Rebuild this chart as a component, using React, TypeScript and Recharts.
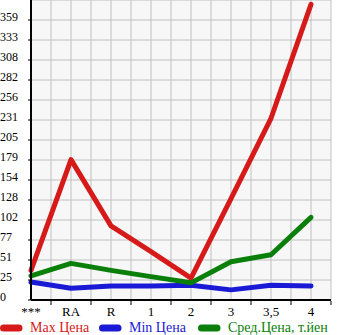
import { CartesianGrid, Legend, Line, LineChart, XAxis, YAxis } from "recharts";

const categories = ["***", "RA", "R", "1", "2", "3", "3,5", "4"];
const maxPrice = [38, 180, 95, 62, 28, 130, 233, 379];
const minPrice = [23, 15, 18, 18, 19, 13, 19, 18];
const avgPrice = [31, 47, 38, 30, 22, 49, 58, 106];
const yTickLabels = ["0", "25", "51", "77", "102", "128", "154", "179", "205", "231", "256", "282", "308", "333", "359"];

const Y_STEP = 359 / 14;
const yTicks = yTickLabels.map((_, i) => i * Y_STEP);
const xTicks = Array.from({ length: categories.length * 2 }, (_, i) => i / 2);

const FONT = "'Liberation Serif', 'DejaVu Serif', serif";

const RED = "#d61a1a";
const BLUE = "#1a1ad6";
const GREEN = "#0a800a";

const SERIES = [
  { key: "max", name: "Max Цена", color: RED },
  { key: "min", name: "Min Цена", color: BLUE },
  { key: "avg", name: "Сред.Цена, т.йен", color: GREEN },
];

const data = categories.map((c, i) => ({
  x: i,
  label: c,
  max: maxPrice[i],
  min: minPrice[i],
  avg: avgPrice[i],
}));

// integer ticks get the category label, half ticks get a small tick mark
function XTick(props: any) {
  const { x, y, payload } = props;
  const v = payload.value as number;
  if (Number.isInteger(v)) {
    return (
      <text x={x} y={y + 16} textAnchor="middle" fontSize={13} fontFamily={FONT} fill="#000">
        {categories[v]}
      </text>
    );
  }
  return <line x1={x} x2={x} y1={y + 1} y2={y + 5} stroke="#000" strokeWidth={1} />;
}

function YTick(props: any) {
  const { y, index } = props;
  return (
    <text x={0} y={y + 1} textAnchor="start" fontSize={12} fontFamily={FONT} fill="#000">
      {yTickLabels[index]}
    </text>
  );
}

function LegendContent() {
  return (
    <div style={{ position: "relative", width: 345, height: 15, fontFamily: FONT, fontSize: 14 }}>
      {SERIES.map((s, i) => (
        <div key={s.key} style={{ position: "absolute", left: i * 99, top: 0, height: 15, display: "flex", alignItems: "center" }}>
          <svg width={23} height={10} style={{ display: "block" }}>
            <line x1={3.5} x2={19} y1={5} y2={5} stroke={s.color} strokeWidth={7} strokeLinecap="round" />
          </svg>
          <span style={{ color: s.color, marginLeft: 7, whiteSpace: "nowrap", lineHeight: "15px" }}>{s.name}</span>
        </div>
      ))}
    </div>
  );
}

export default function App() {
  return (
    <div style={{ position: "absolute", left: 0, top: 0, width: 345, height: 335 }}>
      <LineChart width={345} height={335} data={data} margin={{ top: 0, right: 14, bottom: 0, left: 0 }}>
        <CartesianGrid fill="#f7f7f7" stroke="#c0c0c0" strokeWidth={1} />
        <XAxis
          dataKey="x"
          type="number"
          domain={[0, 7.5]}
          ticks={xTicks}
          interval={0}
          height={20}
          axisLine={{ stroke: "#000", strokeWidth: 2 }}
          tickLine={false}
          tickSize={0}
          tickMargin={0}
          tick={<XTick />}
        />
        <YAxis
          type="number"
          domain={[0, 15 * Y_STEP]}
          ticks={yTicks}
          interval={0}
          width={31}
          axisLine={{ stroke: "#000", strokeWidth: 2 }}
          tickLine={{ stroke: "#000" }}
          tickSize={3}
          tick={<YTick />}
        />
        <Legend verticalAlign="bottom" align="left" content={<LegendContent />} wrapperStyle={{ left: 0, bottom: 0, width: 345, height: 15 }} />
        {SERIES.map((s) => (
          <Line
            key={s.key}
            dataKey={s.key}
            name={s.name}
            stroke={s.color}
            strokeWidth={5}
            strokeLinecap="round"
            strokeLinejoin="round"
            dot={false}
            activeDot={false}
            isAnimationActive={false}
          />
        ))}
      </LineChart>
    </div>
  );
}
